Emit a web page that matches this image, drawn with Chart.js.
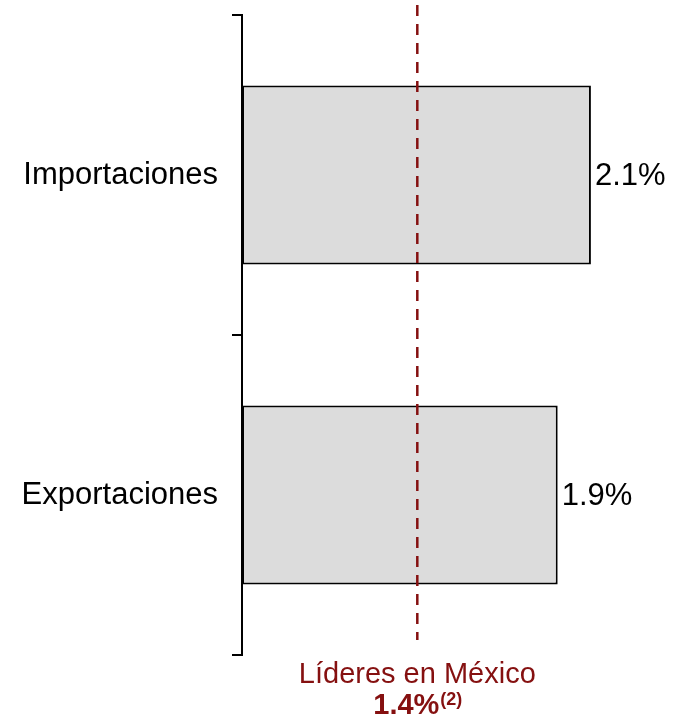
<!DOCTYPE html>
<html>
<head>
<meta charset="utf-8">
<script src="https://cdn.jsdelivr.net/npm/chart.js@4/dist/chart.umd.min.js"></script>
<style>
  html, body { margin: 0; padding: 0; background: #fff; }
  #wrap { width: 679px; height: 718px; }
</style>
</head>
<body>
<div id="wrap"><canvas id="c"></canvas></div>
<script>
// Trade share by flow, percent
const categories = ['Importaciones', 'Exportaciones'];
const shares = [2.1, 1.9];

// Reference level for leading firms in Mexico
const benchmarkValue = 1.4;
const benchmarkLabel = 'Líderes en México';
const benchmarkNote = '(2)';

const FONT = '"Liberation Sans", Arial, Helvetica, sans-serif';
const RED = '#851010';

const overlay = {
  id: 'overlay',
  afterDatasetsDraw(chart) {
    const ctx = chart.ctx;
    const area = chart.chartArea;

    // value labels at bar ends
    ctx.save();
    ctx.fillStyle = '#000';
    ctx.font = '31px ' + FONT;
    ctx.textAlign = 'left';
    ctx.textBaseline = 'middle';
    chart.getDatasetMeta(0).data.forEach((bar, i) => {
      ctx.fillText(shares[i].toFixed(1) + '%', bar.x + 4, bar.y + 1);
    });
    ctx.restore();

    // dashed benchmark line
    const x = chart.scales.xRef.getPixelForValue(benchmarkValue);
    ctx.save();
    ctx.strokeStyle = RED;
    ctx.lineWidth = 2.5;
    ctx.setLineDash([11, 8]);
    ctx.beginPath();
    ctx.moveTo(x, area.top - 10);
    ctx.lineTo(x, area.bottom - 15);
    ctx.stroke();
    ctx.restore();

    // benchmark caption
    ctx.save();
    ctx.fillStyle = RED;
    ctx.textBaseline = 'alphabetic';
    ctx.textAlign = 'center';
    ctx.font = '29px ' + FONT;
    ctx.fillText(benchmarkLabel, x, area.bottom + 28);

    const main = benchmarkValue.toFixed(1) + '%';
    ctx.font = 'bold 29px ' + FONT;
    const wMain = ctx.measureText(main).width;
    ctx.font = 'bold 18px ' + FONT;
    const wNote = ctx.measureText(benchmarkNote).width;
    const start = x - (wMain + wNote) / 2;
    ctx.textAlign = 'left';
    ctx.font = 'bold 29px ' + FONT;
    ctx.fillText(main, start, area.bottom + 59);
    ctx.font = 'bold 18px ' + FONT;
    ctx.fillText(benchmarkNote, start + wMain + 1, area.bottom + 50);
    ctx.restore();
  }
};

new Chart(document.getElementById('c'), {
  type: 'bar',
  data: {
    labels: categories,
    datasets: [{
      data: shares,
      backgroundColor: '#DCDCDC',
      borderColor: '#000',
      borderWidth: 2,
      borderSkipped: false,
      barPercentage: 0.56,
      categoryPercentage: 1
    }]
  },
  options: {
    indexAxis: 'y',
    responsive: true,
    maintainAspectRatio: false,
    animation: false,
    devicePixelRatio: 1,
    layout: { padding: { top: 15, bottom: 63, left: 0, right: 5 } },
    plugins: {
      legend: { display: false },
      tooltip: { enabled: false }
    },
    scales: {
      x: { type: 'linear', min: 0, max: 2.6, display: false },
      xRef: { type: 'linear', axis: 'x', position: 'bottom', min: 0, max: 3.45, display: false },
      y: {
        type: 'category',
        grid: {
          offset: true,
          drawOnChartArea: false,
          drawTicks: true,
          tickLength: 10,
          color: '#000',
          lineWidth: 2
        },
        border: { display: true, color: '#000', width: 2 },
        ticks: {
          color: '#000',
          font: { size: 31, family: FONT },
          padding: 14
        },
        afterFit(scale) {
          scale.width = 242;
          scale.paddingTop = 0;
          scale.paddingBottom = 0;
        }
      }
    }
  },
  plugins: [overlay]
});
</script>
</body>
</html>
